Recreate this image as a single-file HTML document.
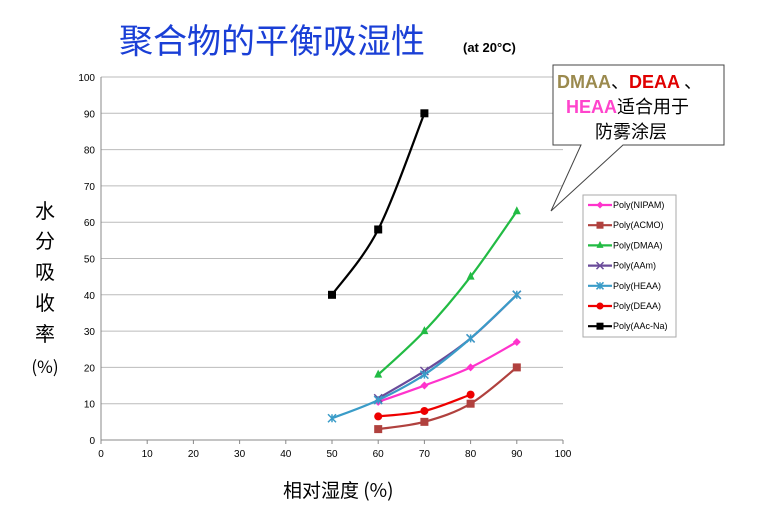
<!DOCTYPE html>
<html><head><meta charset="utf-8"><style>
body{margin:0;background:#fff;width:765px;height:505px;overflow:hidden;font-family:"Liberation Sans","Noto Sans CJK SC",sans-serif}
</style></head><body>
<svg id="s" width="765" height="505" xmlns="http://www.w3.org/2000/svg" font-family="Liberation Sans, Noto Sans CJK SC, sans-serif">
<text x="119" y="53" font-size="34" fill="#1a3fd6" font-family="Noto Sans CJK SC, sans-serif">聚合物的平衡吸湿性</text>
<text x="463" y="52" font-size="13" font-weight="bold" fill="#000">(at 20°C)</text>
<g id="grid"></g>
<g font-size="20" fill="#000" font-family="Noto Sans CJK SC, sans-serif" text-anchor="middle">
<text x="45" y="218">水</text><text x="45" y="248">分</text><text x="45" y="279">吸</text><text x="45" y="310">收</text><text x="45" y="341">率</text><text x="45" y="373" font-size="17">(%)</text>
</g>
<text x="283" y="497" font-size="19" fill="#000" font-family="Noto Sans CJK SC, sans-serif">相对湿度 (%)</text>
<g id="series"></g>
<polygon points="553,65 724,65 724,145 623,145 551,211 581,145 553,145" fill="#fff" stroke="#444" stroke-width="1"/>
<text x="557" y="88" font-size="18" font-weight="bold" fill="#9b8a4e">DMAA<tspan fill="#000" font-weight="normal" font-family="Noto Sans CJK SC">、</tspan><tspan fill="#e00000">DEAA</tspan><tspan fill="#000" font-weight="normal" font-family="Noto Sans CJK SC"> 、</tspan></text>
<text x="566" y="113" font-size="18" fill="#000"><tspan font-weight="bold" fill="#ff44cc">HEAA</tspan><tspan font-family="Noto Sans CJK SC">适合用于</tspan></text>
<text x="595" y="138" font-size="18" fill="#000" font-family="Noto Sans CJK SC">防雾涂层</text>
<rect x="583" y="195" width="93" height="142" fill="#fff" stroke="#aaa"/>
<g id="leg" font-size="9" fill="#000"></g>
</svg>
<script>
const NS="http://www.w3.org/2000/svg";
const X=v=>101+4.62*v, Y=v=>440-3.63*v;
function el(t,a,p){const e=document.createElementNS(NS,t);for(const k in a)e.setAttribute(k,a[k]);if(p)p.appendChild(e);return e;}
const g=document.getElementById('grid');
for(let i=1;i<=10;i++)el('line',{x1:101,x2:563,y1:Y(i*10),y2:Y(i*10),stroke:'#bbb','stroke-width':1},g);
el('line',{x1:101,x2:101,y1:77,y2:440,stroke:'#888'},g);
el('line',{x1:101,x2:563,y1:440,y2:440,stroke:'#888'},g);
for(let i=0;i<=10;i++){
 let t=el('text',{x:95,y:Y(i*10)+4,'font-size':10,'text-anchor':'end',fill:'#000'},g);t.textContent=i*10;
 let u=el('text',{x:X(i*10),y:457,'font-size':10,'text-anchor':'middle',fill:'#000'},g);u.textContent=i*10;
 el('line',{x1:X(i*10),x2:X(i*10),y1:440,y2:444,stroke:'#888'},g);
}
const S=[
 ['Poly(NIPAM)','#ff33cc','d',[[60,10.5],[70,15],[80,20],[90,27]]],
 ['Poly(ACMO)','#b0413e','s',[[60,3],[70,5],[80,10],[90,20]]],
 ['Poly(DMAA)','#22bb44','t',[[60,18],[70,30],[80,45],[90,63]]],
 ['Poly(AAm)','#6a4b9a','x',[[60,11.5],[70,19],[80,28],[90,40]]],
 ['Poly(HEAA)','#3a9cc8','a',[[50,6],[60,11],[70,18],[80,28],[90,40]]],
 ['Poly(DEAA)','#ee0000','c',[[60,6.5],[70,8],[80,12.5]]],
 ['Poly(AAc-Na)','#000','s',[[50,40],[60,58],[70,90]]]];
function marker(m,x,y,c,p,r){r=r||4;
 if(m=='d')el('polygon',{points:`${x},${y-r} ${x+r},${y} ${x},${y+r} ${x-r},${y}`,fill:c},p);
 else if(m=='s')el('rect',{x:x-r,y:y-r,width:2*r,height:2*r,fill:c},p);
 else if(m=='t')el('polygon',{points:`${x},${y-r-1} ${x+r},${y+r-1} ${x-r},${y+r-1}`,fill:c},p);
 else if(m=='c')el('circle',{cx:x,cy:y,r:r,fill:c},p);
 else{el('path',{d:`M${x-r} ${y-r}L${x+r} ${y+r}M${x+r} ${y-r}L${x-r} ${y+r}`+(m=='a'?`M${x} ${y-r}L${x} ${y+r}`:''),stroke:c,'stroke-width':1.5},p);}
}
const sg=document.getElementById('series'),lg=document.getElementById('leg');
S.forEach((s,i)=>{
 const P=s[3].map(p=>[X(p[0]),Y(p[1])]);
 let d=`M${P[0][0]} ${P[0][1]}`;
 for(let k=0;k<P.length-1;k++){
  const p0=P[Math.max(k-1,0)],p1=P[k],p2=P[k+1],p3=P[Math.min(k+2,P.length-1)];
  d+=`C${p1[0]+(p2[0]-p0[0])/6} ${p1[1]+(p2[1]-p0[1])/6} ${p2[0]-(p3[0]-p1[0])/6} ${p2[1]-(p3[1]-p1[1])/6} ${p2[0]} ${p2[1]}`;
 }
 el('path',{d,fill:'none',stroke:s[1],'stroke-width':2.2},sg);
 P.forEach(p=>marker(s[2],p[0],p[1],s[1],sg));
 const ly=205+i*20.2;
 el('line',{x1:588,x2:612,y1:ly,y2:ly,stroke:s[1],'stroke-width':2.2},lg);
 marker(s[2],600,ly,s[1],lg,3.5);
 const t=el('text',{x:613,y:ly+3},lg);t.textContent=s[0];
});
</script>
</body></html>
